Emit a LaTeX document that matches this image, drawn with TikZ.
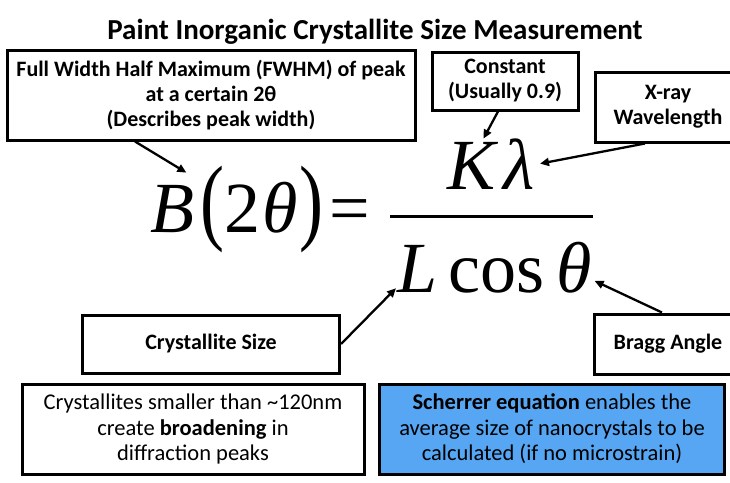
\documentclass[tikz,border=0pt]{standalone}
\usepackage{fontspec}
\setmainfont{Carlito}
\newfontfamily\eqfont{Liberation Serif}
\usepackage{graphicx}
\usetikzlibrary{positioning, arrows.meta}
\definecolor{skyfill}{RGB}{86,166,243}
\newcommand\tallparen[1]{\scalebox{1}[1.33]{#1}}

\begin{document}
\begin{tikzpicture}[x=1pt,y=-1pt,>={Triangle[length=9pt,width=8pt]},
  box/.style={draw,line width=3pt,align=center,inner sep=0pt,font=\fontsize{22}{25}\selectfont\bfseries},
  note/.style={draw,line width=3pt,align=center,inner sep=0pt,font=\fontsize{22.5}{25.5}\selectfont,minimum width=342pt,minimum height=90pt},
  eq/.style={inner sep=0pt,font=\eqfont\fontsize{72}{86}\selectfont},
  arr/.style={->,line width=2.3pt}]
  \clip (0,0) rectangle (730,482);
  \node[font=\fontsize{29}{32}\selectfont\bfseries] (title) at (375,32) {Paint Inorganic Crystallite Size Measurement};
  % equation
  \node[eq,anchor=base west] (B) at (150,232) {\itshape B};
  \node[eq,base right=0pt of B] (lhs) {\kern6pt\tallparen{(}2\kern2pt\textit{θ}\kern2pt\tallparen{)}\kern6pt=};
  \node[fill,inner sep=0pt,minimum width=203pt,minimum height=3pt] (bar) at (491,216) {};
  \node[eq,anchor=base west] (K) at (447,189) {\itshape K};
  \node[eq,base right=8pt of K] (lam) {\itshape λ};
  \node[eq,anchor=base west] (L) at (397,292) {\itshape L};
  \node[eq,base right=11pt of L] (cos) {cos};
  \node[eq,base right=11pt of cos] (th) {\itshape θ};
  % labels
  \node[box,minimum width=408pt,minimum height=90pt] (fwhm) at (211,95) {Full Width Half Maximum (FWHM) of peak\\at a certain 2θ\\(Describes peak width)};
  \node[box,minimum width=146pt,minimum height=58pt] (const) at (505,81) {Constant\\(Usually 0.9)};
  \node[box,minimum width=146pt,minimum height=70pt] (xray) at (668,107) {X-ray\\Wavelength};
  \node[box,minimum width=257pt,minimum height=58pt] (cryst) at (211,344) {Crystallite Size};
  \node[box,minimum width=148pt,minimum height=60pt] (bragg) at (668,344) {Bragg Angle};
  \node[note] (small) at (193,429) {Crystallites smaller than \textasciitilde120nm\\create \textbf{broadening} in\\diffraction peaks};
  \node[note,fill=skyfill,minimum width=345pt] (scherrer) at (552,429) {\textbf{Scherrer equation} enables the\\average size of nanocrystals to be\\calculated (if no microstrain)};
  % pointers
  \draw[arr] ([xshift=-76pt]fwhm.south) -- ([xshift=-8pt,yshift=12pt]B.north east);
  \draw[arr] ([xshift=-7pt]const.south) -- ([xshift=-12pt,yshift=3pt]K.north east);
  \draw[arr] ([xshift=-23pt]xray.south) -- ([xshift=5pt]lam.east);
  \draw[arr] (cryst.east) -- ([xshift=-1pt,yshift=4pt]L.south west);
  \draw[arr] ([xshift=-6pt]bragg.north) -- ([xshift=3pt,yshift=12pt]th.south east);
\end{tikzpicture}
\end{document}
